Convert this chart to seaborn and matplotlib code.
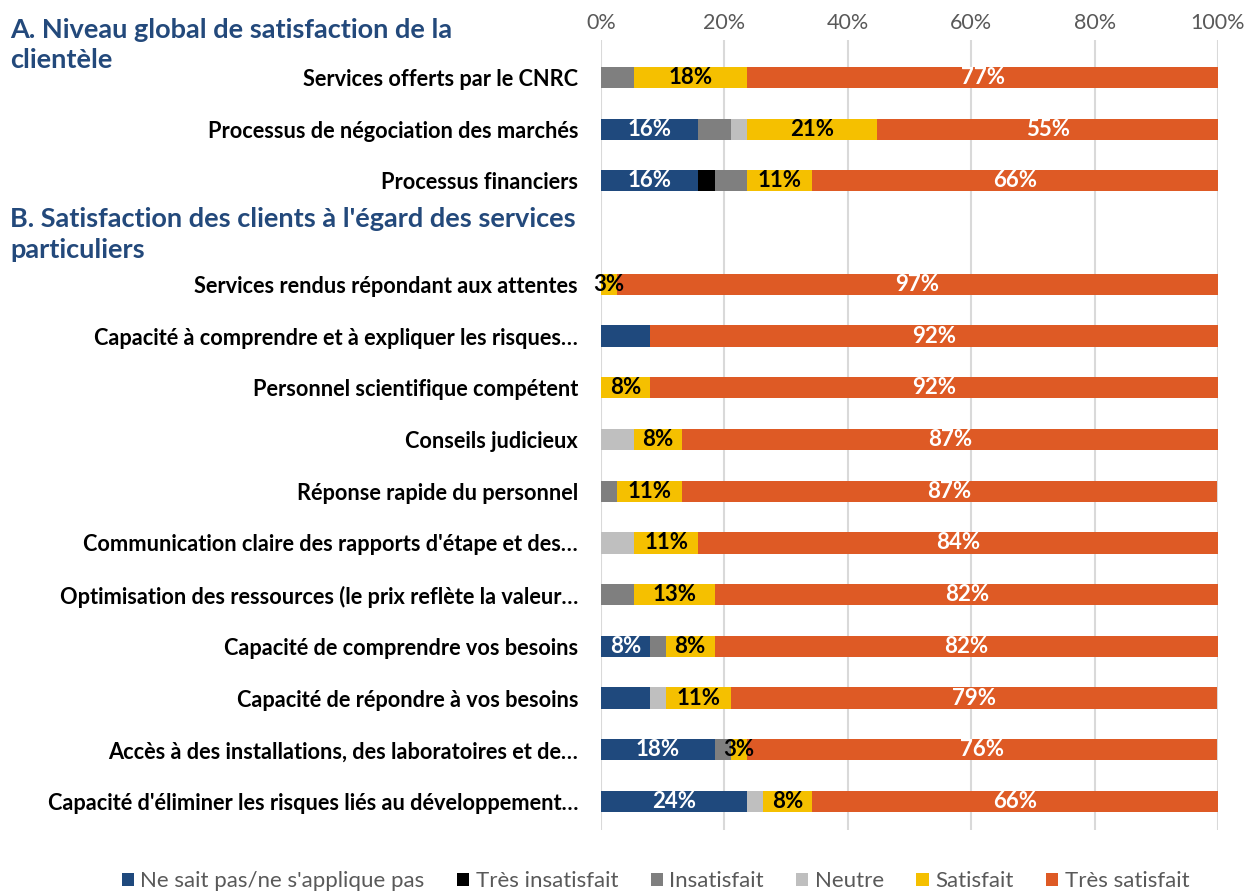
import matplotlib
matplotlib.use("Agg")
import matplotlib.pyplot as plt
from matplotlib.patches import Patch
import seaborn as sns
import numpy as np
import pandas as pd

# ---------------- data ----------------
categories = [
    "Services offerts par le CNRC",
    "Processus de négociation des marchés",
    "Processus financiers",
    "",  # gap row for section B header
    "Services rendus répondant aux attentes",
    "Capacité à comprendre et à expliquer les risques…",
    "Personnel scientifique compétent",
    "Conseils judicieux",
    "Réponse rapide du personnel",
    "Communication claire des rapports d'étape et des…",
    "Optimisation des ressources (le prix reflète la valeur…",
    "Capacité de comprendre vos besoins",
    "Capacité de répondre à vos besoins",
    "Accès à des installations, des laboratoires et de…",
    "Capacité d'éliminer les risques liés au développement…",
]
series_names = ["Ne sait pas/ne s'applique pas", "Très insatisfait", "Insatisfait",
                "Neutre", "Satisfait", "Très satisfait"]

ne_sait_pas      = [0, 15.8, 15.8, 0, 0, 7.9, 0, 0, 0, 0, 0, 7.9, 7.9, 18.4, 23.7]
tres_insatisfait = [0, 0, 2.6, 0, 0, 0, 0, 0, 0, 0, 0, 0, 0, 0, 0]
insatisfait      = [5.3, 5.3, 5.3, 0, 0, 0, 0, 0, 2.6, 0, 5.3, 2.6, 0, 2.6, 0]
neutre           = [0, 2.6, 0, 0, 0, 0, 0, 5.3, 0, 5.3, 0, 0, 2.6, 0, 2.6]
satisfait        = [18.4, 21.1, 10.5, 0, 2.6, 0, 7.9, 7.9, 10.5, 10.5, 13.2, 7.9, 10.5, 2.6, 7.9]
tres_satisfait   = [76.3, 55.3, 65.8, 0, 97.4, 92.1, 92.1, 86.8, 86.8, 84.2, 81.6, 81.6, 78.9, 76.3, 65.8]

# data labels as printed on the chart ("" = no label)
ne_sait_pas_labels = ["", "16%", "16%", "", "", "", "", "", "", "", "", "8%", "", "18%", "24%"]
satisfait_labels = ["18%", "21%", "11%", "", "3%", "", "8%", "8%", "11%", "11%", "13%",
                    "8%", "11%", "3%", "8%"]
tres_satisfait_labels = ["77%", "55%", "66%", "", "97%", "92%", "92%", "87%", "87%", "84%",
                         "82%", "82%", "79%", "76%", "66%"]

xticks = [0, 20, 40, 60, 80, 100]
xtick_labels = ["0%", "20%", "40%", "60%", "80%", "100%"]

colors = ["#1F497D", "#000000", "#7F7F7F", "#BFBFBF", "#F5C000", "#DE5A25"]

header_a = ["A. Niveau global de satisfaction de la", "clientèle"]
header_b = ["B. Satisfaction des clients à l'égard des services", "particuliers"]

# ---------------- plot ----------------
sns.set_theme(style="white")
plt.rcParams["font.family"] = ["Lato", "DejaVu Sans"]

fig = plt.figure(figsize=(12.51, 8.92), dpi=100)
ax = fig.add_axes([0.4804, 0.0695, 0.4932, 0.8855])

series = [ne_sait_pas, tres_insatisfait, insatisfait, neutre, satisfait, tres_satisfait]
arr = np.array(series)
cum = np.cumsum(arr, axis=0)
pos = np.arange(len(categories))

for i in range(len(series) - 1, -1, -1):
    df = pd.DataFrame({"x": cum[i], "y": pos})
    df = df[df["x"] > 0]
    sns.barplot(data=df, x="x", y="y", orient="h", native_scale=True,
                color=colors[i], saturation=1, width=0.41, linewidth=0, ax=ax,
                zorder=3)

# data labels
label_sets = {0: (ne_sait_pas_labels, "white"),
              4: (satisfait_labels, "black"),
              5: (tres_satisfait_labels, "white")}
for r in range(len(categories)):
    left = 0
    for i, vals in enumerate(series):
        v = vals[r]
        if i in label_sets and label_sets[i][0][r]:
            ax.text(left + v / 2, r, label_sets[i][0][r], ha="center", va="center",
                    color=label_sets[i][1], fontsize=16, fontweight="bold", zorder=5,
                    clip_on=False)
        left += v

ax.set_xlim(0, 100)
ax.set_ylim(14.55, -0.72)
ax.set_xticks(xticks)
ax.set_xticklabels(xtick_labels, fontsize=15.5, color="#595959")
ax.xaxis.tick_top()
ax.tick_params(axis="x", length=0, pad=5)
ax.set_yticks(pos)
ax.set_yticklabels(categories, fontsize=15.7, fontweight="bold", color="black")
ax.tick_params(axis="y", length=0, pad=16.5)
ax.set_xlabel("")
ax.set_ylabel("")
ax.grid(axis="x", color="#D9D9D9", linewidth=1.5, zorder=0)
ax.grid(axis="y", visible=False)
for s in ax.spines.values():
    s.set_visible(False)

header_color = "#23497B"
for txt, yb in zip(header_a, [0.9574, 0.9238]):
    fig.text(0.008, yb, txt, fontsize=19.5, fontweight="bold", color=header_color,
             ha="left", va="baseline")
for txt, yb in zip(header_b, [0.7455, 0.7108]):
    fig.text(0.008, yb, txt, fontsize=19.5, fontweight="bold", color=header_color,
             ha="left", va="baseline")

handles = [Patch(facecolor=c, edgecolor="none") for c in colors]
leg = fig.legend(handles, series_names, loc="center", bbox_to_anchor=(0.524, 0.012),
                 ncol=6, frameon=False, fontsize=16, handlelength=0.55, handleheight=0.55,
                 handletextpad=0.3, columnspacing=1.45)
for t in leg.get_texts():
    t.set_color("#595959")

fig.savefig("out.png", dpi=100)
